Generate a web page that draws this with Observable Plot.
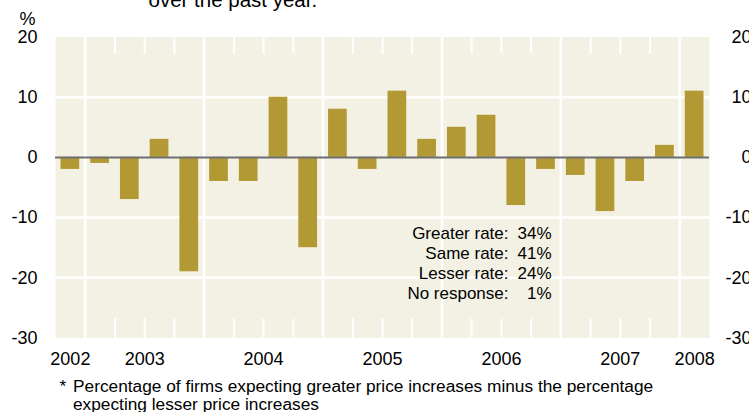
<!DOCTYPE html>
<html><head><meta charset="utf-8">
<script src="https://cdn.jsdelivr.net/npm/d3@7"></script>
<script src="https://cdn.jsdelivr.net/npm/@observablehq/plot@0.6"></script>
<style>body{margin:0;background:#fff} svg{display:block}</style>
</head><body><div id="chart"></div>
<script>
const quarters = ["2002Q4","2003Q1","2003Q2","2003Q3","2003Q4","2004Q1","2004Q2","2004Q3","2004Q4","2005Q1","2005Q2","2005Q3","2005Q4","2006Q1","2006Q2","2006Q3","2006Q4","2007Q1","2007Q2","2007Q3","2007Q4","2008Q1"];
const values = [-2,-1,-7,3,-19,-4,-4,10,-15,8,-2,11,3,5,7,-8,-2,-3,-9,-4,2,11];
const yearLabels = ["2002","2003","2004","2005","2006","2007","2008"];
const yTicks = [20,10,0,-10,-20,-30];
const gridValues = [10,-10,-20];
const responseLabels = ["Greater rate:","Same rate:","Lesser rate:","No response:"];
const responseValues = ["34%","41%","24%","1%"];
const unitLabel = "%";
const titleTail = "over the past year.";
const footnoteMark = "*";
const footnoteLines = ["Percentage of firms expecting greater price increases minus the percentage","expecting lesser price increases"];

const data = quarters.map((q,i)=>{const year=+q.slice(0,4), qn=+q.slice(5); return {year, q:qn, t:year+(qn-1)/4, value:values[i]};});
const x0 = d3.min(data,d=>d.t), x1 = d3.max(data,d=>d.t)+0.25;
const years = yearLabels.map(y=>{const ds=data.filter(d=>d.year===+y); return {label:y, x:(d3.min(ds,d=>d.t)+d3.max(ds,d=>d.t)+0.25)/2};});
const yearBounds = data.filter(d=>d.q===1).map(d=>d.t);
const quarterBounds = data.filter(d=>d.q!==1 && d.t>x0).map(d=>d.t);

const font = "Arial, 'Liberation Sans', Helvetica, sans-serif";
const fmt = d => String(d);
const chart = Plot.plot({
  width:749, height:412,
  marginLeft:55, marginRight:40, marginTop:36.5, marginBottom:74.5,
  x:{domain:[x0,x1], axis:null},
  y:{domain:[-30,20], axis:null},
  style:{fontFamily:font, fontSize:"17px", color:"#000", background:"transparent", overflow:"visible"},
  marks:[
    Plot.frame({fill:"#f3f1e4", stroke:null}),
    Plot.ruleY(gridValues,{stroke:"#fff", strokeWidth:2.5}),
    Plot.ruleX(yearBounds,{stroke:"#fff", strokeWidth:2.5}),
    Plot.ruleX(quarterBounds,{stroke:"#fff", strokeWidth:2, insetBottom:284}),
    Plot.ruleX(quarterBounds,{stroke:"#fff", strokeWidth:2, insetTop:282}),
    Plot.rect(data,{x1:"t", x2:d=>d.t+0.25, y1:d=>0, y2:"value", fill:"#b39934", insetLeft:5.5, insetRight:5.5}),
    Plot.ruleY([0],{stroke:"#6e6e6e", strokeWidth:2}),
    Plot.axisY({anchor:"left", ticks:yTicks, tickFormat:fmt, tickSize:0, tickPadding:18, label:null, fontSize:18, dy:0}),
    Plot.axisY({anchor:"right", ticks:yTicks, tickFormat:fmt, tickSize:0, tickPadding:42, textAnchor:"end", label:null, fontSize:18, dy:0}),
    Plot.text(years,{x:"x", text:"label", frameAnchor:"bottom", lineAnchor:"bottom", dy:26.5, fontSize:18}),
    Plot.text([unitLabel],{text:d=>d, frameAnchor:"top-left", textAnchor:"start", lineAnchor:"bottom", dx:-36, dy:-12.5, fontSize:18}),
    Plot.text([titleTail],{text:d=>d, frameAnchor:"top-left", textAnchor:"start", lineAnchor:"bottom", dx:93, dy:-30.5, fontSize:20.5}),
    Plot.text([responseLabels.join("\n")],{text:d=>d, frameAnchor:"top-left", textAnchor:"end", lineAnchor:"top", lineHeight:20/17, dx:453, dy:188, fontSize:17}),
    Plot.text([responseValues.join("\n")],{text:d=>d, frameAnchor:"top-left", textAnchor:"end", lineAnchor:"top", lineHeight:20/17, dx:496, dy:188, fontSize:17}),
    Plot.text([footnoteMark],{text:d=>d, frameAnchor:"bottom-left", textAnchor:"start", lineAnchor:"bottom", dx:4, dy:53.5, fontSize:17.3}),
    Plot.text([footnoteLines.join("\n")],{text:d=>d, frameAnchor:"bottom-left", textAnchor:"start", lineAnchor:"bottom", lineHeight:18/17.3, dx:17.5, dy:71.5, fontSize:17.3})
  ]
});
document.getElementById("chart").append(chart);
</script>
</body></html>
